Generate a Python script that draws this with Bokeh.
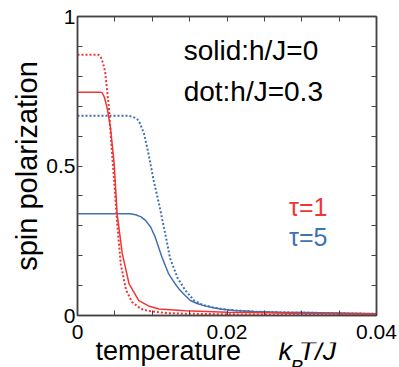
from bokeh.plotting import figure
from bokeh.models import (Range1d, FixedTicker, LinearAxis, Label,
                          CustomJSTickFormatter)
from bokeh.layouts import column
from bokeh.embed import file_html
from bokeh.resources import INLINE

# ---- data ----
t1_h0_x = [0, 0.003, 0.0033, 0.0036, 0.004, 0.0044, 0.0049, 0.0053, 0.006,
           0.0069, 0.0082, 0.0095, 0.0109, 0.0144, 0.02, 0.025, 0.03, 0.04]
t1_h0_y = [0.747, 0.747, 0.745, 0.73, 0.69, 0.63, 0.51, 0.34, 0.206,
           0.106, 0.05, 0.032, 0.022, 0.016, 0.011, 0.009, 0.007, 0.005]

t1_h3_x = [0, 0.0028, 0.0031, 0.0034, 0.0037, 0.0042, 0.0045, 0.0049, 0.0053,
           0.0058, 0.0065, 0.0073, 0.0085, 0.0095, 0.012, 0.0144, 0.02, 0.03, 0.04]
t1_h3_y = [0.872, 0.872, 0.865, 0.845, 0.815, 0.697, 0.585, 0.45, 0.31,
           0.17, 0.085, 0.045, 0.022, 0.015, 0.008, 0.006, 0.004, 0.002, 0.0015]

t5_h0_x = [0, 0.007, 0.0078, 0.0085, 0.0091, 0.0098, 0.0104, 0.0113, 0.0122,
           0.013, 0.0137, 0.0144, 0.0151, 0.016, 0.0169, 0.018, 0.0191, 0.021,
           0.0236, 0.027, 0.0303, 0.035, 0.04]
t5_h0_y = [0.34, 0.34, 0.337, 0.33, 0.318, 0.295, 0.262, 0.195, 0.139,
           0.108, 0.085, 0.067, 0.05, 0.04, 0.033, 0.027, 0.022, 0.017,
           0.013, 0.011, 0.01, 0.008, 0.006]

t5_h3_x = [0, 0.0068, 0.0073, 0.0078, 0.0082, 0.0089, 0.0095, 0.0102, 0.0109,
           0.0116, 0.0124, 0.0134, 0.0144, 0.0156, 0.0168, 0.018, 0.0195, 0.021,
           0.0236, 0.027, 0.0303, 0.035, 0.04]
t5_h3_y = [0.668, 0.668, 0.665, 0.66, 0.652, 0.608, 0.541, 0.45, 0.374,
           0.29, 0.19, 0.125, 0.085, 0.05, 0.035, 0.028, 0.021, 0.017,
           0.013, 0.011, 0.0095, 0.0075, 0.0055]

x_major = [0, 0.02, 0.04]
x_minor = [0.005, 0.01, 0.015, 0.025, 0.03, 0.035]
y_major = [0, 0.5, 1]
y_minor = [0.1, 0.2, 0.3, 0.4, 0.6, 0.7, 0.8, 0.9]
x_tick_labels = {0: "0", 0.02: "0.02", 0.04: "0.04"}
y_tick_labels = {0: "0", 0.5: "0.5", 1: "1"}

RED = "#f03535"
BLUE = "#4170b3"
FONT = "Liberation Sans"
AX = "#444444"

p = figure(width=399, height=349, output_backend="svg", toolbar_location=None,
           x_range=Range1d(0, 0.04), y_range=Range1d(0, 1),
           min_border_left=77, min_border_right=23, min_border_top=16,
           min_border_bottom=34)
p.grid.visible = False
p.outline_line_color = AX
p.outline_line_width = 1.5
p.background_fill_color = "white"
p.border_fill_color = "white"

def style_axis(ax, major, minor, labels, show, standoff=4):
    ax.ticker = FixedTicker(ticks=major, minor_ticks=minor)
    ax.major_tick_in = 5
    ax.major_tick_out = 0
    ax.minor_tick_in = 5
    ax.minor_tick_out = 0
    ax.axis_line_color = AX
    ax.axis_line_width = 1.5
    ax.major_tick_line_color = AX
    ax.minor_tick_line_color = AX
    ax.major_label_standoff = standoff
    if show:
        ax.major_label_overrides = labels
        ax.major_label_text_font = FONT
        ax.major_label_text_font_size = "21px"
        ax.major_label_text_color = "black"
    else:
        ax.formatter = CustomJSTickFormatter(code="return ''")
        ax.major_label_standoff = 0

style_axis(p.xaxis[0], x_major, x_minor, x_tick_labels, True, 9)
style_axis(p.yaxis[0], y_major, y_minor, y_tick_labels, True, 2)

top = LinearAxis()
style_axis(top, x_major, x_minor, x_tick_labels, False)
p.add_layout(top, "above")
right = LinearAxis()
style_axis(right, y_major, y_minor, y_tick_labels, False)
p.add_layout(right, "right")

p.yaxis[0].axis_label = "spin polarization"
p.yaxis[0].axis_label_text_font = FONT
p.yaxis[0].axis_label_text_font_size = "29px"
p.yaxis[0].axis_label_text_font_style = "normal"
p.yaxis[0].axis_label_text_color = "black"
p.yaxis[0].axis_label_standoff = 0

# curves
p.line(t5_h0_x, t5_h0_y, line_color=BLUE, line_width=1.5)
p.line(t5_h3_x, t5_h3_y, line_color=BLUE, line_width=2, line_dash="2 2")
p.line(t1_h0_x, t1_h0_y, line_color=RED, line_width=1.5)
p.line(t1_h3_x, t1_h3_y, line_color=RED, line_width=2, line_dash="2 2")

def lab(fig, x, y, text, size, color="black", style="normal"):
    fig.add_layout(Label(x=x, y=y, text=text, text_font=FONT,
                         text_font_size=size, text_color=color,
                         text_font_style=style, text_baseline="alphabetic",
                         text_align="left"))

lab(p, 0.0142, 0.886, "solid:h/J=0", "28px")
lab(p, 0.0142, 0.749, "dot:h/J=0.3", "28px")
lab(p, 0.0283, 0.363, "τ=1", "25px", RED)
lab(p, 0.0283, 0.263, "τ=5", "25px", BLUE)

# x-axis label strip (mixed upright / italic), sharing the x scale;
# transparent and pulled up slightly so it sits just under the tick labels
q = figure(width=399, height=25, output_backend="svg", toolbar_location=None,
           x_range=p.x_range, y_range=Range1d(0, 25),
           x_axis_type=None, y_axis_type=None,
           min_border_left=77, min_border_right=23, min_border_top=0,
           min_border_bottom=0, margin=(-7, 0, 0, 0))
q.grid.visible = False
q.outline_line_color = None
q.background_fill_color = None
q.border_fill_color = None

lab(q, 0.0024, 16.4, "temperature", "27px")
lab(q, 0.0269, 16.4, "k", "27px", style="italic")
lab(q, 0.0285, 1.0, "B", "19px", style="italic")
lab(q, 0.0296, 16.4, "T/J", "27px", style="italic")

open("out.html", "w").write(file_html(column(p, q, spacing=0), INLINE))
